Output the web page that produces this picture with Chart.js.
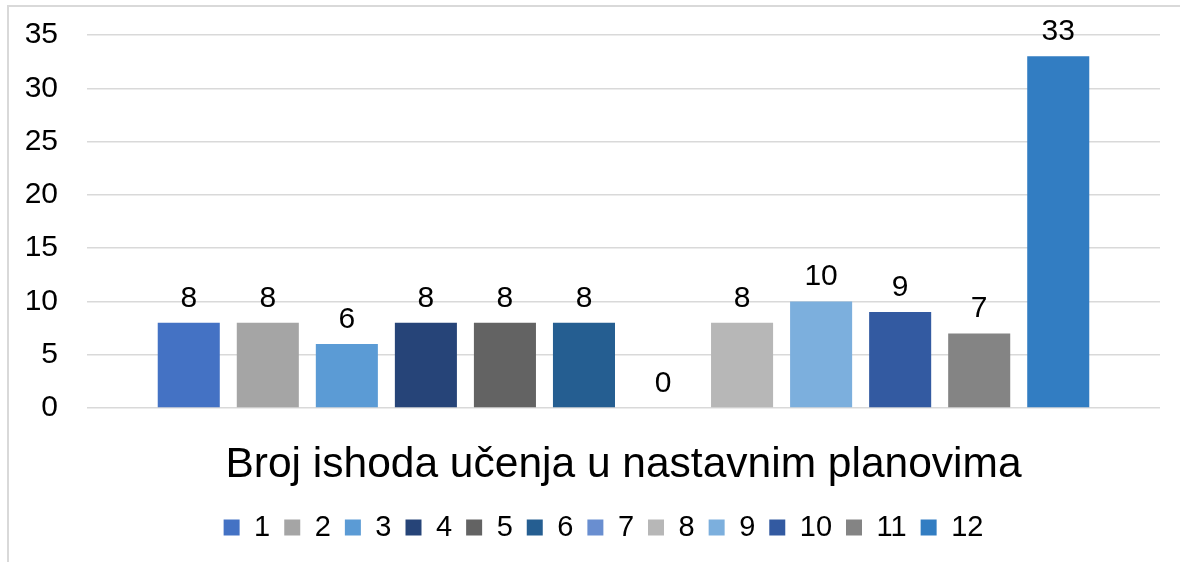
<!DOCTYPE html>
<html>
<head>
<meta charset="utf-8">
<script src="https://cdn.jsdelivr.net/npm/chart.js@4/dist/chart.umd.min.js"></script>
<style>
  html, body { margin: 0; padding: 0; background: #fff; overflow: hidden; }
  #wrap { position: relative; width: 1180px; height: 562px; overflow: hidden; }
  #frame { position: absolute; left: 7px; top: 5px; width: 1200px; height: 600px; border-top: 2px solid #d9d9d9; border-left: 2px solid #d9d9d9; pointer-events: none; }
</style>
</head>
<body>
<div id="wrap">
  <canvas id="ishodiChart" width="1180" height="562"></canvas>
  <div id="frame"></div>
</div>
<script>
// Podaci
const kategorije = ['Broj ishoda učenja u nastavnim planovima'];
const serije = ['1', '2', '3', '4', '5', '6', '7', '8', '9', '10', '11', '12'];
const vrijednosti = [8, 8, 6, 8, 8, 8, 0, 8, 10, 9, 7, 33];
const boje = ['#4472c4', '#a5a5a5', '#5b9bd5', '#264478', '#636363', '#255e91',
              '#698ed0', '#b7b7b7', '#7cafdd', '#335aa1', '#848484', '#327dc2'];
const yTicks = [0, 5, 10, 15, 20, 25, 30, 35];

const fontFamily = '"Liberation Sans", Arial, sans-serif';

// oznake vrijednosti iznad stupaca
const oznakePlugin = {
    id: 'oznake',
    afterLayout(chart) {
        // legenda je u Excelu malo pomaknuta udesno
        chart.legend.left += 20;
        chart.legend.right += 20;
    },
    afterDatasetsDraw(chart) {
        const ctx = chart.ctx;
        ctx.save();
        ctx.font = '30px ' + fontFamily;
        ctx.fillStyle = '#000';
        ctx.textAlign = 'center';
        ctx.textBaseline = 'alphabetic';
        chart.data.datasets.forEach((ds, i) => {
            const meta = chart.getDatasetMeta(i);
            meta.data.forEach((bar, j) => {
                ctx.fillText(String(ds.data[j]), bar.x, bar.y - 16);
            });
        });
        ctx.restore();
    }
};

const ctx = document.getElementById('ishodiChart').getContext('2d');
new Chart(ctx, {
    type: 'bar',
    data: {
        labels: kategorije,
        datasets: serije.map((s, i) => ({
            label: s,
            data: [vrijednosti[i]],
            backgroundColor: boje[i],
            borderWidth: 0,
            categoryPercentage: 0.884,
            barPercentage: 0.785
        }))
    },
    options: {
        responsive: false,
        animation: false,
        layout: {
            padding: { left: 7, right: 20, top: 35, bottom: 10 }
        },
        plugins: {
            legend: {
                position: 'bottom',
                labels: {
                    boxWidth: 16,
                    boxHeight: 16,
                    padding: 14,
                    color: '#000',
                    font: { family: fontFamily, size: 29 }
                }
            },
            tooltip: { enabled: false }
        },
        scales: {
            y: {
                min: 0,
                max: 35,
                afterBuildTicks: (scale) => { scale.ticks = yTicks.map(v => ({ value: v })); },
                afterFit: (scale) => {
                    scale.width = 80;
                    scale.paddingTop = 0;
                    scale.paddingBottom = 0;
                },
                ticks: {
                    padding: 29,
                    color: '#000',
                    font: { family: fontFamily, size: 30 }
                },
                grid: { color: '#d9d9d9', lineWidth: 1.5, drawTicks: false },
                border: { display: false }
            },
            x: {
                afterFit: (scale) => {
                    scale.height = 91;
                    scale.paddingLeft = 0;
                    scale.paddingRight = 0;
                },
                ticks: {
                    padding: 24,
                    color: '#000',
                    font: { family: fontFamily, size: 42.5 }
                },
                grid: { display: false },
                border: { display: false }
            }
        }
    },
    plugins: [oznakePlugin]
});
</script>
</body>
</html>
